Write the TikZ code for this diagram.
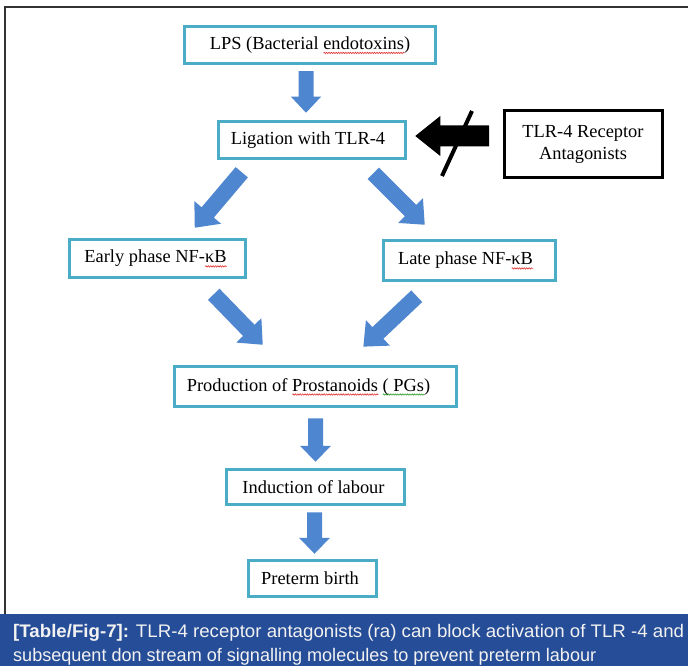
\documentclass[tikz,border=0pt]{standalone}
\usepackage{fontspec}
\setmainfont{Liberation Serif}
\newfontfamily\capfont{Liberation Sans}
\usetikzlibrary{calc,decorations.pathmorphing}
\definecolor{boxteal}{HTML}{4BACC6}
\definecolor{arrowblue}{HTML}{4F86D0}
\definecolor{capblue}{HTML}{264D97}
\definecolor{framegray}{HTML}{333333}
\definecolor{sqred}{HTML}{E03030}
\definecolor{sqgreen}{HTML}{30A030}
\newcommand\mainsz{\fontsize{18.4pt}{22pt}\selectfont}
\newcommand\capsz{\capfont\fontsize{18.2pt}{21pt}\selectfont}
\newcommand\capLineA{\textbf{[Table/Fig-7]:} TLR-4 receptor antagonists (ra) can block activation of TLR -4 and}
\newcommand\capLineB{subsequent don stream of signalling molecules to prevent preterm labour}
\newlength\capwA
\newlength\capwB
\newsavebox\sqbox
\newlength\sqw
\newcommand\squig[2]{\sbox\sqbox{#2}\setlength\sqw{\wd\sqbox}%
  \rlap{\smash{\tikz[baseline=0pt]\draw[color=#1,line width=0.6pt,decorate,decoration={zigzag,segment length=2.4pt,amplitude=0.7pt}] (0pt,-3.5pt) -- (\sqw,-3.5pt);}}\usebox\sqbox}
% block arrow: #1 style, #2 start, #3 end, #4 shaft width, #5 head width, #6 head length
\newcommand\blockarrow[6]{%
  \path #2; \pgfgetlastxy\baSx\baSy
  \path #3; \pgfgetlastxy\baEx\baEy
  \pgfmathsetmacro\baAng{atan2(\baEy-\baSy,\baEx-\baSx)}%
  \pgfmathsetmacro\baLen{veclen(\baEx-\baSx,\baEy-\baSy)}%
  \pgfmathsetmacro\baNeck{\baLen-#6}%
  \begin{scope}[shift={(\baSx,\baSy)},rotate=\baAng]
    \fill[#1] (0pt,{-#4*0.5pt}) -- ({\baNeck*1pt},{-#4*0.5pt}) -- ({\baNeck*1pt},{-#5*0.5pt})
      -- ({\baLen*1pt},0pt) -- ({\baNeck*1pt},{#5*0.5pt}) -- ({\baNeck*1pt},{#4*0.5pt}) -- (0pt,{#4*0.5pt}) -- cycle;
  \end{scope}}
\tikzset{
  flowbox/.style={draw=boxteal, line width=3.5pt, fill=white, inner sep=0pt, font=\mainsz, text=black},
  blackbox/.style={draw=black, line width=3pt, fill=white, inner sep=0pt, font=\mainsz, text=black, align=center},
  bluearrow/.style={fill=arrowblue},
  blackarrow/.style={fill=black},
  captext/.style={anchor=base west, inner sep=0pt, text=white!95!black},
}
\begin{document}
\settowidth\capwA{\capsz\capLineA}%
\settowidth\capwB{\capsz\capLineB}%
\begin{tikzpicture}[x=1pt,y=-1pt]
\pgfmathsetmacro\capscaleA{671/\capwA}
\pgfmathsetmacro\capscaleB{583/\capwB}
\useasboundingbox (0,0) rectangle (688,666);
\fill[white] (0,0) rectangle (688,666);
% frame and caption band
\draw[framegray, line width=1.5pt] (5,614) -- (5,7) -- (688,7);
\fill[capblue] (0,614) rectangle (688,666);
\node[captext] (cap1) at (13,637) {\scalebox{\capscaleA}[1]{\capsz\capLineA}};
\node[captext] (cap2) at (13,661) {\scalebox{\capscaleB}[1]{\capsz\capLineB}};
% boxes
\node[flowbox, minimum width=251pt, minimum height=37pt] (lps) at (310,45) {LPS (Bacterial \squig{sqred}{endotoxins})};
\node[flowbox, minimum width=187pt, minimum height=37pt] (lig) at (312,140) {Ligation with TLR-4\hspace*{8pt}};
\node[blackbox, minimum width=158pt, minimum height=66pt] (ant) at (583,144) {\fontsize{18.4pt}{25pt}\selectfont TLR-4 Receptor\\Antagonists};
\node[flowbox, minimum width=176pt, minimum height=38pt] (early) at (157.5,258.5) {Early phase NF-\squig{sqred}{κB}\hspace*{4pt}};
\node[flowbox, minimum width=172pt, minimum height=40pt] (late) at (469.5,260.5) {Late phase NF-\squig{sqred}{κB}\hspace*{8pt}};
\node[flowbox, minimum width=282pt, minimum height=40pt] (prod) at (315.5,386.5) {Production of \squig{sqred}{Prostanoids} \squig{sqgreen}{( PGs})\hspace*{14pt}};
\node[flowbox, minimum width=178pt, minimum height=35pt] (ind) at (315.5,487) {Induction of labour\hspace*{4pt}};
\node[flowbox, minimum width=128pt, minimum height=36pt] (pre) at (312.5,578.5) {Preterm birth\hspace*{5pt}};
% blue block arrows
\blockarrow{bluearrow}{($(lps.south)+(-4,6)$)}{($(lig.north)+(-6,-7)$)}{15}{30}{16}
\blockarrow{bluearrow}{($(lig.south west)+(25,12)$)}{($(early.north west)+(127,-10)$)}{16}{35}{20}
\blockarrow{bluearrow}{($(lig.south east)+(-34,13)$)}{($(late.north west)+(43,-14)$)}{16}{35}{20}
\blockarrow{bluearrow}{($(early.south west)+(146,15)$)}{($(prod.north west)+(90,-20)$)}{16}{35}{20}
\blockarrow{bluearrow}{($(late.south west)+(35,14)$)}{($(prod.north east)+(-95,-18)$)}{16}{35}{20}
\blockarrow{bluearrow}{($(prod.south)+(0,10)$)}{($(ind.north)+(0,-6)$)}{15}{31}{16}
\blockarrow{bluearrow}{($(ind.south)+(-1,6)$)}{($(pre.north)+(2,-5)$)}{15}{31}{16}
% black inhibited arrow
\blockarrow{blackarrow}{($(ant.west)+(-13.5,-8)$)}{($(lig.east)+(8,-4)$)}{21}{40}{25}
\coordinate (sl1) at (442,176);
\coordinate (sl2) at (472,111);
\draw[black, line width=4pt] (sl1) -- (sl2);
\end{tikzpicture}
\end{document}
